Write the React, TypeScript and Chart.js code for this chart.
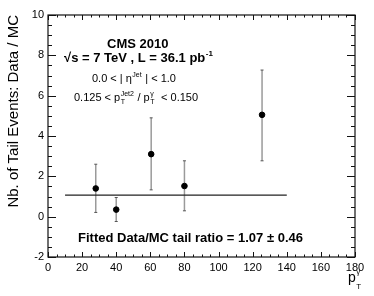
import React, { useEffect, useRef } from "react";
import { Chart, registerables } from "chart.js";

Chart.register(...registerables);

const ptGamma = [28, 40, 60.5, 80, 125.5];
const tailRatio = [1.4, 0.35, 3.1, 1.52, 5.05];
const errUp = [1.2, 0.6, 1.8, 1.25, 2.22];
const errDown = [1.19, 0.59, 1.77, 1.23, 2.28];
const fitValue = 1.07;
const fitRange = [10, 140];
const xTicks = { min: 0, max: 180, step: 20, minor: 5 };
const yTicks = { min: -2, max: 10, step: 2, minor: 0.5 };

const FONT = "'Liberation Sans', Arial, Helvetica, sans-serif";

type Part = { t?: string; size?: number; bold?: boolean; sup?: string; sub?: string; small?: number; supDy?: number; subDy?: number };

function drawRich(ctx: CanvasRenderingContext2D, x: number, y: number, parts: Part[]) {
  let cx = x;
  ctx.textBaseline = "alphabetic";
  ctx.textAlign = "left";
  for (const p of parts) {
    if (p.sup !== undefined || p.sub !== undefined) {
      const s = p.small || 7;
      ctx.font = `${p.bold ? "bold " : ""}${s}px ${FONT}`;
      const w1 = p.sup ? ctx.measureText(p.sup).width : 0;
      const w2 = p.sub ? ctx.measureText(p.sub).width : 0;
      if (p.sup) ctx.fillText(p.sup, cx + 0.5, y - (p.supDy ?? s * 0.75));
      if (p.sub) ctx.fillText(p.sub, cx + 0.5, y + (p.subDy ?? s * 0.45));
      cx += Math.max(w1, w2) + 1;
    } else {
      ctx.font = `${p.bold ? "bold " : ""}${p.size || 11}px ${FONT}`;
      ctx.fillText(p.t || "", cx, y);
      cx += ctx.measureText(p.t || "").width;
    }
  }
}

const rootPlugin = {
  id: "rootStyle",
  beforeDatasetsDraw(chart: any) {
    const { ctx, scales } = chart;
    const xs = scales.x, ys = scales.y;
    ctx.save();
    for (let i = 0; i < ptGamma.length; i++) {
      const px = xs.getPixelForValue(ptGamma[i]);
      const top = ys.getPixelForValue(tailRatio[i] + errUp[i]);
      const bot = ys.getPixelForValue(tailRatio[i] - errDown[i]);
      ctx.strokeStyle = "#9a9a9a";
      ctx.lineWidth = 1.5;
      ctx.beginPath();
      ctx.moveTo(px, top);
      ctx.lineTo(px, bot);
      ctx.stroke();
      ctx.strokeStyle = "#555";
      ctx.lineWidth = 1;
      ctx.beginPath();
      ctx.moveTo(px - 1.5, top);
      ctx.lineTo(px + 1.5, top);
      ctx.moveTo(px - 1.5, bot);
      ctx.lineTo(px + 1.5, bot);
      ctx.stroke();
    }
    ctx.restore();
  },
  afterDraw(chart: any) {
    const { ctx, chartArea: a, scales } = chart;
    const xs = scales.x, ys = scales.y;
    ctx.save();
    ctx.strokeStyle = "#111";
    ctx.lineWidth = 1.2;
    ctx.strokeRect(a.left, a.top, a.right - a.left, a.bottom - a.top);
    ctx.lineWidth = 1;
    ctx.beginPath();
    for (let v = xTicks.min; v <= xTicks.max + 1e-9; v += xTicks.minor) {
      const major = Math.abs(v / xTicks.step - Math.round(v / xTicks.step)) < 1e-6;
      const len = major ? 5 : 2.5;
      const px = Math.round(xs.getPixelForValue(v)) + 0.5;
      ctx.moveTo(px, a.bottom);
      ctx.lineTo(px, a.bottom - len);
      ctx.moveTo(px, a.top);
      ctx.lineTo(px, a.top + len);
    }
    for (let v = yTicks.min; v <= yTicks.max + 1e-9; v += yTicks.minor) {
      const major = Math.abs(v / yTicks.step - Math.round(v / yTicks.step)) < 1e-6;
      const len = major ? 8 : 4;
      const py = Math.round(ys.getPixelForValue(v)) + 0.5;
      ctx.moveTo(a.left, py);
      ctx.lineTo(a.left + len, py);
      ctx.moveTo(a.right, py);
      ctx.lineTo(a.right - len, py);
    }
    ctx.stroke();

    ctx.fillStyle = "#000";
    drawRich(ctx, 107, 48, [{ t: "CMS 2010", size: 13, bold: true }]);
    drawRich(ctx, 64, 62, [
      { t: "√s = 7 TeV , L = 36.1 pb", size: 13, bold: true },
      { sup: "-1", small: 8, bold: true },
    ]);
    drawRich(ctx, 92, 82, [
      { t: "0.0 < | η", size: 11 },
      { sup: "Jet", small: 7 },
      { t: " | < 1.0", size: 11 },
    ]);
    drawRich(ctx, 74, 101, [
      { t: "0.125 < p", size: 11 },
      { sup: "Jet2", sub: "T", small: 7 },
      { t: " / p", size: 11 },
      { sup: "γ", sub: "T", small: 7 },
      { t: "  < 0.150", size: 11 },
    ]);
    drawRich(ctx, 78, 242, [{ t: "Fitted Data/MC tail ratio = 1.07 ± 0.46", size: 13, bold: true }]);
    drawRich(ctx, 348, 282, [{ t: "p", size: 14 }, { sup: "γ", sub: "T", small: 8, supDy: 8, subDy: 7 }]);

    ctx.save();
    ctx.translate(18, a.top);
    ctx.rotate(-Math.PI / 2);
    ctx.font = `15px ${FONT}`;
    ctx.textAlign = "right";
    ctx.textBaseline = "alphabetic";
    ctx.fillText("Nb. of Tail Events: Data / MC", 0, 0);
    ctx.restore();
    ctx.restore();
  },
};

export default function App() {
  const ref = useRef<HTMLCanvasElement | null>(null);
  useEffect(() => {
    if (!ref.current) return;
    const chart = new Chart(ref.current, {
      type: "scatter",
      data: {
        datasets: [
          {
            label: "data",
            data: ptGamma.map((x, i) => ({ x, y: tailRatio[i] })),
            backgroundColor: "#000",
            borderColor: "#000",
            pointRadius: 2.8,
            pointHoverRadius: 2.8,
            showLine: false,
          },
          {
            label: "fit",
            data: fitRange.map((x) => ({ x, y: fitValue })),
            borderColor: "#222",
            borderWidth: 1.2,
            pointRadius: 0,
            showLine: true,
          },
        ],
      },
      options: {
        animation: false,
        responsive: false,
        layout: { padding: { top: 15, right: 19, left: 0, bottom: 0 } },
        plugins: { legend: { display: false }, tooltip: { enabled: false } },
        scales: {
          x: {
            type: "linear",
            min: xTicks.min,
            max: xTicks.max,
            grid: { display: false, drawTicks: false },
            border: { display: false },
            ticks: { stepSize: xTicks.step, padding: 4, color: "#000", font: { family: FONT, size: 11 }, maxRotation: 0 },
            afterFit: (s: any) => { s.height = 39; },
          },
          y: {
            type: "linear",
            min: yTicks.min,
            max: yTicks.max,
            grid: { display: false, drawTicks: false },
            border: { display: false },
            ticks: { stepSize: yTicks.step, padding: 4, color: "#000", font: { family: FONT, size: 11 } },
            afterFit: (s: any) => { s.width = 48; },
          },
        },
      },
      plugins: [rootPlugin],
    });
    return () => chart.destroy();
  }, []);
  return (
    <div style={{ position: "absolute", left: 0, top: 0, width: 374, height: 296, background: "#fff" }}>
      <canvas ref={ref} width={374} height={296} style={{ width: 374, height: 296 }} />
    </div>
  );
}
